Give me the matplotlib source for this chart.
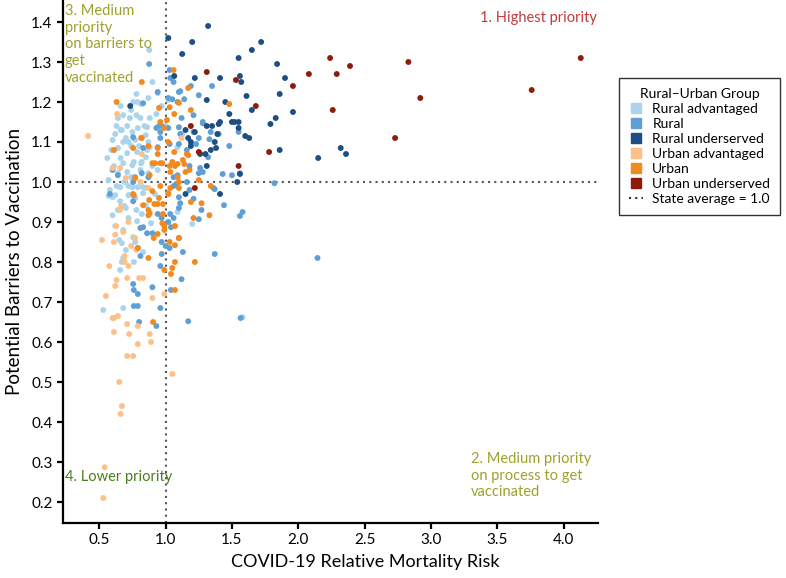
import matplotlib
matplotlib.use("Agg")
import matplotlib.pyplot as plt
from matplotlib.lines import Line2D

plt.rcParams['font.family'] = ['Lato', 'DejaVu Sans']

# ---- data ----
group_names = ["Rural advantaged", "Rural", "Rural underserved",
               "Urban advantaged", "Urban", "Urban underserved"]
group_colors = ["#a9d4ec", "#5e9fd6", "#1d4e84", "#fdc088", "#f28a1f", "#8e1c0c"]

rural_adv_x = [0.876, 0.755, 0.815, 0.87, 0.94, 0.68, 0.78, 0.81, 0.64, 0.71, 0.86, 0.75, 0.79,
               0.85, 1.0, 0.60, 0.68, 0.77, 0.87, 0.88, 0.64, 0.71, 0.785, 0.85, 0.56, 0.68, 0.75,
               0.815, 0.64, 0.71, 0.74, 0.87, 0.94, 0.57, 0.657, 0.83, 0.60, 0.72, 1.125, 1.02, 1.09,
               0.58, 0.57, 0.62, 0.72, 0.75, 0.79, 0.83, 0.85, 0.657, 0.725, 0.70, 0.78, 0.85, 0.60,
               0.785, 0.89, 0.65, 0.67, 0.77, 0.83, 0.67, 0.68, 0.657, 0.755, 1.09, 1.20, 0.53, 0.68,
               1.58, 0.62, 0.66, 0.73, 0.70, 0.74, 0.80, 0.82, 0.66, 0.61, 0.69, 0.77, 0.64, 0.72,
               0.68, 0.62, 0.70, 0.76, 0.82, 0.92, 0.90, 0.84, 0.93, 0.97, 0.66, 0.90, 0.78,
               0.59, 0.63, 0.74, 0.81, 0.67, 0.76, 0.88, 0.72, 0.63, 0.79, 0.69, 0.86]
rural_adv_y = [1.33, 1.20, 1.195, 1.21, 1.222, 1.167, 1.167, 1.16, 1.16, 1.14, 1.137, 1.125, 1.135,
               1.117, 1.14, 1.105, 1.10, 1.105, 1.10, 1.087, 1.085, 1.072, 1.075, 1.062, 1.06, 1.047, 1.042,
               1.047, 1.022, 1.025, 1.012, 1.022, 1.03, 1.005, 0.987, 0.987, 0.962, 0.967, 1.12, 1.205, 1.087,
               0.98, 0.965, 0.967, 0.99, 0.987, 0.987, 0.972, 0.985, 0.952, 0.967, 0.935, 0.93, 0.942, 0.917,
               0.902, 0.897, 0.855, 0.847, 0.85, 0.825, 0.80, 0.81, 0.78, 0.862, 0.925, 0.895, 0.68, 0.685,
               0.662, 1.12, 1.13, 1.16, 1.11, 1.09, 1.09, 1.05, 1.06, 1.04, 1.00, 0.96, 0.93, 0.91,
               0.88, 0.89, 0.83, 0.80, 0.92, 0.97, 1.04, 1.14, 1.17, 1.19, 1.19, 1.25, 1.22,
               1.08, 1.14, 1.18, 1.03, 1.13, 1.05, 1.16, 1.10, 0.99, 1.20, 0.94, 1.08]

rural_x = [0.876, 1.03, 1.035, 1.06, 0.94, 1.10, 1.35, 1.14, 1.05, 0.83, 1.19, 1.25, 1.11, 1.02, 1.09,
           0.93, 0.95, 0.97, 0.96, 1.12, 1.21, 1.28, 1.21, 1.11, 1.25, 1.23, 1.16, 1.02, 0.96, 1.03,
           1.10, 1.34, 1.48, 1.40, 1.32, 1.26, 1.25, 1.43, 1.50, 1.56, 1.55, 1.33, 1.28, 1.10, 1.18,
           1.28, 0.60, 0.64, 0.82, 0.755, 1.09, 1.16, 1.36, 1.06, 0.58, 0.755, 0.83, 0.94, 0.77, 0.87,
           1.06, 1.82, 1.10, 1.18, 1.21, 1.27, 1.37, 1.44, 1.58, 1.56, 0.94, 0.97, 1.035, 1.06, 1.02,
           1.10, 1.25, 1.04, 0.83, 0.86, 0.81, 0.90, 1.10, 0.97, 1.00, 1.13, 1.37, 0.97, 0.96, 1.12,
           0.90, 0.76, 0.79, 0.755, 0.76, 0.79, 0.96, 1.17, 0.80, 0.93, 1.565, 2.145, 1.04, 1.03, 1.11,
           1.08, 0.755, 0.79, 0.81]
rural_y = [1.295, 1.28, 1.26, 1.25, 1.225, 1.225, 1.24, 1.207, 1.207, 1.197, 1.24, 1.217, 1.227, 1.21, 1.20,
           1.135, 1.14, 1.14, 1.125, 1.16, 1.167, 1.15, 1.125, 1.12, 1.11, 1.095, 1.08, 1.135, 1.11, 1.095,
           1.095, 1.125, 1.09, 1.12, 1.062, 1.035, 1.022, 1.02, 1.017, 1.022, 1.125, 1.107, 1.147, 1.137, 1.04,
           1.025, 1.03, 1.017, 1.022, 1.0, 1.017, 1.0, 0.985, 0.99, 0.97, 1.112, 1.085, 1.087, 1.012, 1.012,
           1.012, 0.997, 0.962, 0.98, 0.958, 0.93, 0.982, 0.942, 0.925, 0.915, 0.92, 0.91, 0.92, 0.91, 0.90,
           0.935, 0.907, 0.887, 0.887, 0.872, 0.885, 0.872, 0.86, 0.85, 0.84, 0.825, 0.82, 0.82, 0.79, 0.757,
           0.737, 0.73, 0.72, 0.745, 0.69, 0.69, 0.685, 0.652, 0.65, 0.64, 0.66, 0.81, 0.73, 0.835, 0.947,
           0.995, 0.952, 0.835, 0.815]

rural_und_x = [1.32, 1.02, 1.20, 1.125, 1.72, 1.65, 1.55, 1.84, 1.065, 1.22, 1.41, 1.56, 1.57, 1.90,
               1.86, 1.61, 1.31, 1.45, 1.65, 1.96, 1.48, 1.83, 1.79, 1.31, 1.35, 1.40, 1.41, 1.50, 1.52,
               1.55, 1.55, 1.15, 1.22, 1.39, 1.60, 1.63, 1.17, 1.19, 1.37, 1.19, 1.38, 1.34, 1.30, 1.26,
               1.86, 2.32, 2.36, 2.15, 1.31, 1.56, 1.54, 1.41, 0.733, 1.15]
rural_und_y = [1.39, 1.36, 1.35, 1.32, 1.35, 1.33, 1.31, 1.295, 1.265, 1.26, 1.26, 1.265, 1.25, 1.26,
               1.22, 1.215, 1.205, 1.20, 1.18, 1.175, 1.17, 1.16, 1.145, 1.14, 1.14, 1.145, 1.15, 1.15, 1.15,
               1.15, 1.135, 1.13, 1.125, 1.12, 1.115, 1.11, 1.11, 1.10, 1.10, 1.09, 1.085, 1.08, 1.07, 1.07,
               1.08, 1.085, 1.07, 1.06, 1.04, 1.02, 1.00, 0.97, 1.19, 0.97]

urban_adv_x = [0.415, 0.634, 0.657, 0.81, 0.87, 0.82, 0.60, 0.665, 0.657, 0.52, 0.62, 0.68, 0.72, 0.61,
               0.74, 0.77, 0.78, 0.69, 0.69, 0.575, 0.72, 0.63, 0.62, 0.71, 0.80, 0.83, 0.55, 0.90, 0.60,
               0.61, 0.64, 0.71, 0.79, 0.61, 0.725, 0.88, 0.79, 0.89, 0.71, 0.755, 1.05, 0.99, 0.65, 0.67,
               0.66, 0.54, 0.53, 0.627, 0.70, 1.12]
urban_adv_y = [1.115, 1.17, 1.035, 1.0, 0.985, 1.07, 1.035, 0.94, 0.93, 0.855, 0.868, 0.875, 0.90, 0.85,
               0.84, 0.86, 0.83, 0.815, 0.80, 0.79, 0.79, 0.755, 0.74, 0.76, 0.76, 0.76, 0.715, 0.71, 0.66,
               0.66, 0.665, 0.645, 0.64, 0.625, 0.62, 0.62, 0.595, 0.60, 0.565, 0.565, 0.52, 0.72, 0.50, 0.44,
               0.42, 0.287, 0.21, 0.89, 1.01, 1.11]

urban_x = [1.06, 1.17, 0.82, 0.63, 0.95, 1.03, 1.10, 1.19, 1.065, 1.48, 0.82, 0.61, 0.755, 0.94, 1.065,
           1.17, 0.90, 0.96, 1.07, 1.14, 1.035, 1.15, 0.77, 0.88, 0.96, 1.10, 1.02, 0.755, 1.34, 1.25,
           1.18, 1.02, 1.16, 1.13, 1.09, 1.03, 1.09, 0.94, 0.96, 0.99, 1.01, 0.76, 0.876, 0.915, 0.95,
           0.98, 1.02, 1.035, 1.10, 0.87, 0.98, 0.87, 1.27, 1.21, 1.33, 0.99, 0.94, 0.91, 0.99, 1.07,
           1.10, 1.03, 1.07, 0.79, 0.87, 1.22, 1.07, 0.99, 1.05, 1.04, 1.07, 0.905, 1.19, 0.87, 0.92,
           0.975, 1.05, 0.815, 0.90, 0.83, 0.88, 0.975, 0.94]
urban_y = [1.28, 1.235, 1.25, 1.20, 1.185, 1.187, 1.198, 1.18, 1.17, 1.195, 1.11, 1.08, 1.085, 1.085, 1.075,
           1.067, 1.047, 1.047, 1.04, 1.045, 1.025, 1.025, 1.01, 1.017, 0.99, 0.985, 0.97, 0.97, 0.99, 1.005,
           1.03, 1.10, 1.07, 1.055, 1.045, 1.04, 1.012, 1.07, 1.15, 1.135, 1.155, 0.967, 0.955, 0.945, 0.96,
           0.945, 0.972, 0.985, 1.0, 0.93, 0.92, 0.917, 0.947, 0.91, 0.917, 0.89, 0.87, 0.86, 0.88, 0.89,
           0.86, 0.85, 0.842, 0.835, 0.81, 0.80, 0.80, 0.78, 0.785, 0.77, 0.73, 0.65, 0.95, 1.09, 1.047,
           1.047, 1.05, 1.11, 0.977, 0.942, 0.922, 0.897, 0.945]

urban_und_x = [2.24, 2.29, 2.39, 2.26, 2.83, 2.92, 2.73, 3.76, 4.13, 1.31, 1.53, 1.68, 1.96, 2.08,
               1.78, 1.19, 1.25, 1.55, 1.22]
urban_und_y = [1.31, 1.27, 1.29, 1.18, 1.30, 1.21, 1.11, 1.23, 1.31, 1.275, 1.255, 1.19, 1.24, 1.27,
               1.075, 1.14, 1.075, 1.04, 0.985]

xticks = [0.5, 1.0, 1.5, 2.0, 2.5, 3.0, 3.5, 4.0]
yticks = [0.2, 0.3, 0.4, 0.5, 0.6, 0.7, 0.8, 0.9, 1.0, 1.1, 1.2, 1.3, 1.4]
state_avg = 1.0

groups = [(rural_adv_x, rural_adv_y), (rural_x, rural_y), (rural_und_x, rural_und_y),
          (urban_adv_x, urban_adv_y), (urban_x, urban_y), (urban_und_x, urban_und_y)]

# ---- figure ----
fig = plt.figure(figsize=(7.86, 5.78), dpi=100)
ax = fig.add_axes([63 / 786, 55 / 578, (598 - 63) / 786, 523 / 578])

for (gx, gy), col in zip(groups, group_colors):
    ax.scatter(gx, gy, s=18, color=col, edgecolors='none', zorder=3)

ax.axhline(state_avg, color='#555555', lw=1.5, ls=(0, (1, 2)), zorder=2)
ax.axvline(state_avg, color='#555555', lw=1.5, ls=(0, (1, 2)), zorder=2)

ax.set_xlim(0.226, 4.26)
ax.set_ylim(0.1475, 1.455)
ax.set_xticks(xticks)
ax.set_xticklabels([f"{t:.1f}" for t in xticks])
ax.set_yticks(yticks)
ax.set_yticklabels([f"{t:.1f}" for t in yticks])

for s in ['top', 'right']:
    ax.spines[s].set_visible(False)
for s in ['left', 'bottom']:
    ax.spines[s].set_linewidth(1.6)
ax.tick_params(width=1.6, length=4, labelsize=11, colors='black')

ax.set_xlabel("COVID-19 Relative Mortality Risk", fontsize=13, labelpad=6)
ax.set_ylabel("Potential Barriers to Vaccination", fontsize=13.5, labelpad=6)
ax.xaxis.set_label_coords((365 - 63) / 535, -0.06)

# quadrant notes
olive = '#9da22c'
ax.text(4.25, 1.41, "1. Highest priority", color='#c23b3b', fontsize=10.5, ha='right', va='center')
ax.text(0.24, 1.445, "3. Medium\npriority\non barriers to\nget\nvaccinated", color=olive,
        fontsize=10.5, ha='left', va='top', linespacing=1.25)
ax.text(0.24, 0.262, "4. Lower priority", color='#4b7d1c', fontsize=10.5, ha='left', va='center')
ax.text(3.30, 0.325, "2. Medium priority\non process to get\nvaccinated", color=olive,
        fontsize=10.5, ha='left', va='top', linespacing=1.25)

handles = [Line2D([], [], ls='none', marker='s', markersize=7, color=c) for c in group_colors]
handles.append(Line2D([], [], ls=(0, (1, 2)), lw=1.5, color='#333333'))
labels = group_names + ["State average = 1.0"]
leg = fig.legend(handles, labels, title="Rural\u2013Urban Group", loc='upper left',
                 bbox_to_anchor=(619 / 786, 1 - 78 / 578), fontsize=10, title_fontsize=10,
                 frameon=True, fancybox=False, edgecolor='black', handlelength=1.0,
                 handletextpad=0.7, labelspacing=0.22, borderpad=0.7, borderaxespad=0)
leg.get_frame().set_linewidth(1.0)

fig.savefig("out.png", dpi=100)
